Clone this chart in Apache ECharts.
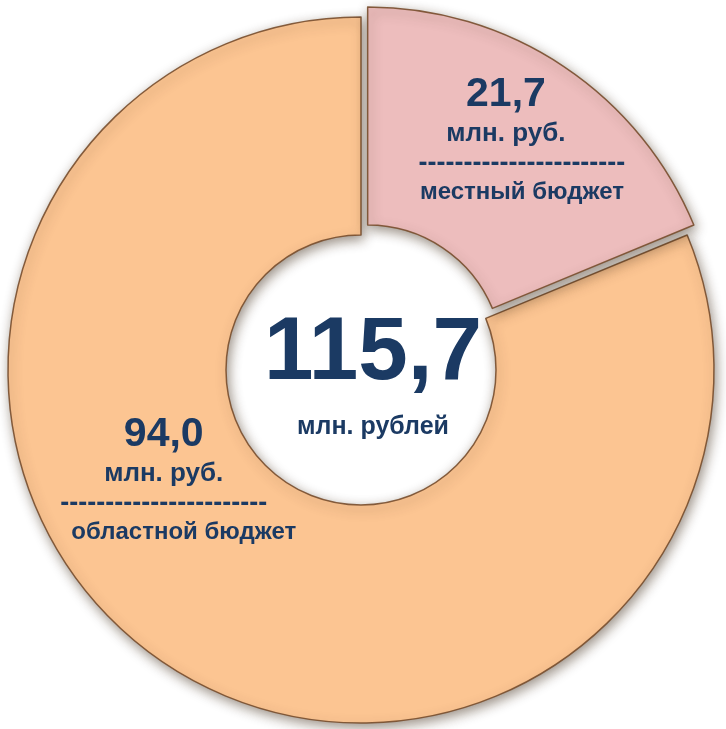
<!DOCTYPE html>
<html>
<head>
<meta charset="utf-8">
<script src="https://cdn.jsdelivr.net/npm/echarts@6/dist/echarts.min.js"></script>
<style>
html,body{margin:0;padding:0;background:#fff;}
#c{width:726px;height:729px;}
</style>
</head>
<body>
<div id="c"></div>
<script>
// Data
var categories = ['местный бюджет', 'областной бюджет'];
var values = [21.7, 94.0];
var unitShort = 'млн. руб.';
var unitTotal = 'млн. рублей';
var separator = '-----------------------';

var colors = ['#EDBDBD', '#FCC592'];
var textColor = '#1B3A63';
var FONT = '"Liberation Sans", Arial, sans-serif';

function fmt(v){ return v.toFixed(1).replace('.', ','); }
var total = values.reduce(function(a,b){return a+b;}, 0);

// label offsets (relative to default inside position)
var labelShift = [[17, -14], [-60, -95]];
// per-slice line paddings [top,right,bottom,left] for value/unit and name lines
var headPad = [[0, 32, 0, 0], [0, 0, 0, 0]];
var namePad = [[0, 0, 0, 0], [0, 0, 0, 40]];

var rich = {};
values.forEach(function(_, i){
  rich['v' + i] = {fontFamily: FONT, fontSize: 41, fontWeight: 'bold', color: textColor, lineHeight: 44, padding: headPad[i]};
  rich['u' + i] = {fontFamily: FONT, fontSize: 26, fontWeight: 'bold', color: textColor, lineHeight: 34, padding: headPad[i]};
  rich['d' + i] = {fontFamily: FONT, fontSize: 27, fontWeight: 'bold', color: textColor, lineHeight: 26};
  rich['n' + i] = {fontFamily: FONT, fontSize: 24, fontWeight: 'bold', color: textColor, lineHeight: 32, padding: namePad[i]};
});

var chart = echarts.init(document.getElementById('c'));
chart.setOption({
  backgroundColor: '#ffffff',
  animation: false,
  title: {
    text: fmt(total),
    subtext: unitTotal,
    left: 368,
    top: 305,
    textAlign: 'center',
    itemGap: 16,
    textStyle: {fontFamily: FONT, fontSize: 89, fontWeight: 'bold', color: textColor},
    subtextStyle: {fontFamily: FONT, fontSize: 25, fontWeight: 'bold', color: textColor}
  },
  series: [{
    type: 'pie',
    center: [361, 370],
    radius: [135, 353],
    startAngle: 90,
    clockwise: true,
    selectedMode: 'multiple',
    selectedOffset: 12,
    silent: true,
    data: categories.map(function(n, i){
      return {
        name: n, value: values[i], selected: i === 0,
        itemStyle: {color: colors[i]}
      };
    }),
    itemStyle: {
      borderColor: 'rgba(120,78,45,0.9)',
      borderWidth: 1.5,
      shadowBlur: 12,
      shadowOffsetX: 2,
      shadowOffsetY: 4,
      shadowColor: 'rgba(60,40,20,0.5)'
    },
    label: {
      show: true,
      position: 'inside',
      formatter: function(p){
        var i = p.dataIndex;
        return '{v' + i + '|' + fmt(p.value) + '}\n{u' + i + '|' + unitShort + '}\n{d' + i + '|' + separator + '}\n{n' + i + '|' + p.name + '}';
      },
      rich: rich
    },
    labelLayout: function(params){
      var s = labelShift[params.dataIndex];
      return {dx: s[0], dy: s[1]};
    },
    labelLine: {show: false}
  }]
});
</script>
</body>
</html>
